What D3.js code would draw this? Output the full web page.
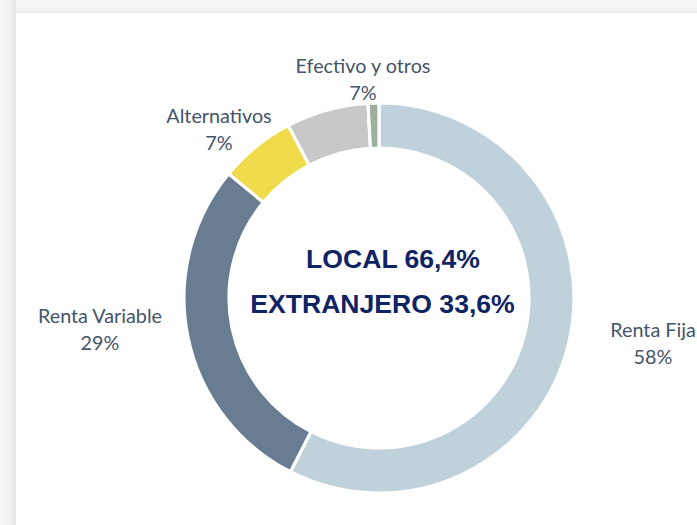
<!DOCTYPE html>
<html><head><meta charset="utf-8">
<script src="https://cdn.jsdelivr.net/npm/d3@7"></script>
<style>
html,body{margin:0;padding:0;background:#fff;}
svg{display:block;}
</style></head>
<body>
<svg id="chart" width="697" height="525"></svg>
<script>
// Data
const categories = ["Renta Fija", "Renta Variable", "Alternativos", "Efectivo y otros", "Otros"];
const values = [57.5, 28.5, 6.3, 6.8, 0.9];
const valueLabels = ["58%", "29%", "7%", "7%", ""];
const colors = ["#BFD1DB", "#687D92", "#F0DC4B", "#C8C8C8", "#9DAF9F"];
const centerLines = ["LOCAL 66,4%", "EXTRANJERO 33,6%"];

const svg = d3.select("#chart");
const W = 697, H = 525;

// frame / shadow
const defs = svg.append("defs");
const gl = defs.append("linearGradient").attr("id","gl").attr("x1","0").attr("x2","1").attr("y1","0").attr("y2","0");
gl.append("stop").attr("offset","0").attr("stop-color","#f8f8f8");
gl.append("stop").attr("offset","0.6").attr("stop-color","#f0f1f1");
gl.append("stop").attr("offset","1").attr("stop-color","#e4e6e7");
const gt = defs.append("linearGradient").attr("id","gt").attr("x1","0").attr("x2","0").attr("y1","0").attr("y2","1");
gt.append("stop").attr("offset","0").attr("stop-color","#f8f8f8");
gt.append("stop").attr("offset","0.6").attr("stop-color","#f4f5f5");
gt.append("stop").attr("offset","1").attr("stop-color","#eceeee");
svg.append("rect").attr("x",0).attr("y",0).attr("width",W).attr("height",13).attr("fill","url(#gt)");
svg.append("rect").attr("x",0).attr("y",0).attr("width",16).attr("height",H).attr("fill","url(#gl)");
svg.append("rect").attr("x",16).attr("y",13).attr("width",W-16).attr("height",H-13).attr("fill","#ffffff");

const cx = 379, cy = 298, rOuter = 195, rInner = 150;
const g = svg.append("g").attr("transform", `translate(${cx},${cy})`);

const pie = d3.pie().sort(null).value(d => d.v).startAngle(0).endAngle(2*Math.PI);
const arc = d3.arc().innerRadius(rInner).outerRadius(rOuter);
const data = categories.map((c,i) => ({c, v: values[i], lab: valueLabels[i], col: colors[i]}));

g.selectAll("path").data(pie(data)).join("path")
  .attr("d", arc)
  .attr("fill", d => d.data.col)
  .attr("stroke", "#ffffff")
  .attr("stroke-width", 3.2);

// outside labels
const labelPos = [
  {x: 653, y: 337},
  {x: 100, y: 323},
  {x: 219, y: 123},
  {x: 363, y: 73},
  null
];
const labelFont = "Lato, 'Open Sans', sans-serif";
data.forEach((d,i) => {
  const p = labelPos[i];
  if (!p) return;
  const t = svg.append("text")
    .attr("x", p.x).attr("y", p.y)
    .attr("text-anchor","middle")
    .attr("font-family", labelFont)
    .attr("font-size", 19.8)
    .attr("fill", "#44546A");
  t.append("tspan").attr("x", p.x).attr("y", p.y).text(d.c);
  t.append("tspan").attr("x", p.x).attr("y", p.y + 27).text(d.lab);
});

// center text
const centerPos = [{x: 393, y: 268}, {x: 382.5, y: 313}];
centerLines.forEach((s,i) => {
  svg.append("text")
    .attr("x", centerPos[i].x).attr("y", centerPos[i].y)
    .attr("text-anchor","middle")
    .attr("font-family","'Liberation Sans', Arial, sans-serif")
    .attr("font-weight","bold")
    .attr("font-size", 26.6)
    .attr("fill","#0E2465")
    .text(s);
});
</script>
</body></html>
